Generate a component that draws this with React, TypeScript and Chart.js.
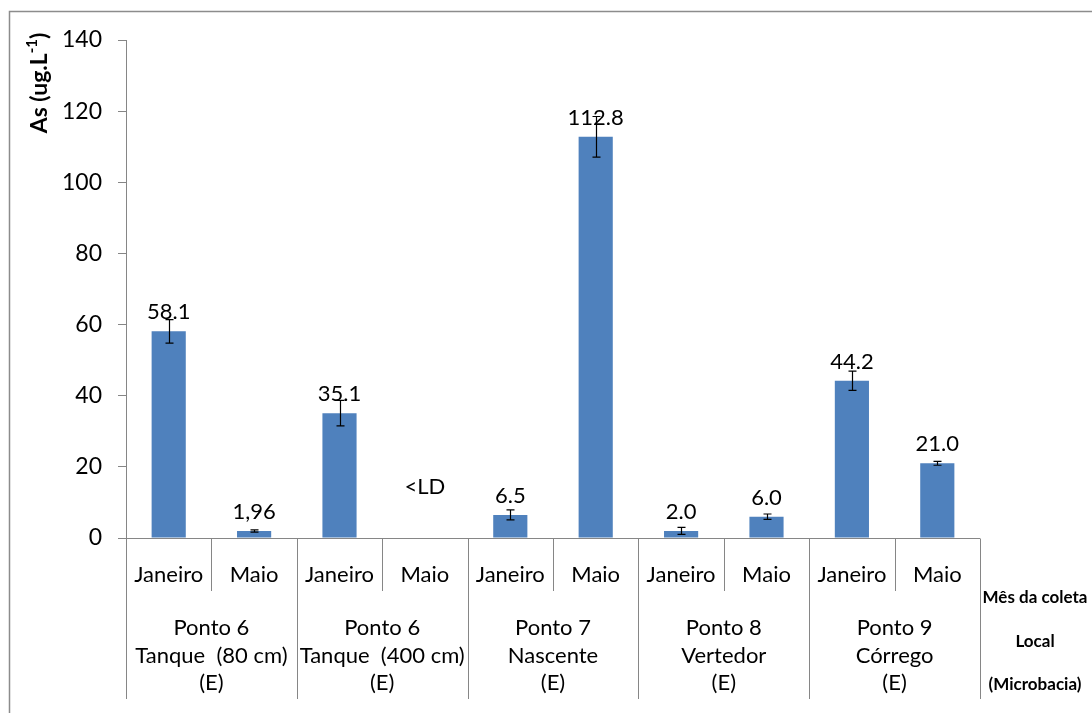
import React, { useEffect, useRef } from "react";
import { Chart, registerables } from "chart.js";

Chart.register(...registerables);

// Collection month for each bar
const MONTHS = ["Janeiro", "Maio", "Janeiro", "Maio", "Janeiro", "Maio", "Janeiro", "Maio", "Janeiro", "Maio"];

// Sampling sites (each spans two months)
const SITES = [
  ["Ponto 6", "Tanque  (80 cm)", "(E)"],
  ["Ponto 6", "Tanque  (400 cm)", "(E)"],
  ["Ponto 7", "Nascente", "(E)"],
  ["Ponto 8", "Vertedor", "(E)"],
  ["Ponto 9", "Córrego", "(E)"],
];

// Arsenic concentration (ug/L); null = below detection limit
const AS_VALUES: (number | null)[] = [58.1, 1.96, 35.1, null, 6.5, 112.8, 2.0, 6.0, 44.2, 21.0];
const AS_ERRORS = [3.3, 0.3, 3.6, 0, 1.4, 5.7, 1.0, 0.75, 2.7, 0.55];
const VALUE_LABELS = ["58.1", "1,96", "35.1", "<LD", "6.5", "112.8", "2.0", "6.0", "44.2", "21.0"];

// Row headers at the right of the category axis
const ROW_TITLES = ["Mês da coleta", "Local", "(Microbacia)"];

const Y_MIN = 0;
const Y_MAX = 140;
const Y_STEP = 20;

const AXIS_GREY = "#868686";
const BAR_BLUE = "#4F81BD";
const FONT = "Lato";

const annotate = {
  id: "annotate",
  afterDraw(chart: any) {
    const { ctx, chartArea } = chart;
    const yScale = chart.scales.y;
    const meta = chart.getDatasetMeta(0);
    const { left, right, bottom } = chartArea;
    const n = MONTHS.length;
    const cw = (right - left) / n;

    ctx.save();

    // outer frame
    ctx.strokeStyle = "#8c8c8c";
    ctx.lineWidth = 1.5;
    ctx.beginPath();
    ctx.moveTo(9.5, chart.height + 5);
    ctx.lineTo(9.5, 11.5);
    ctx.lineTo(chart.width + 5, 11.5);
    ctx.stroke();

    // error bars
    ctx.strokeStyle = "#000";
    ctx.lineWidth = 1.2;
    AS_VALUES.forEach((v, i) => {
      const e = AS_ERRORS[i];
      if (v == null || !e) return;
      const x = Math.round(meta.data[i].x) + 0.5;
      const yt = yScale.getPixelForValue(v + e);
      const yb = yScale.getPixelForValue(v - e);
      ctx.beginPath();
      ctx.moveTo(x, yt);
      ctx.lineTo(x, yb);
      ctx.moveTo(x - 4, yt);
      ctx.lineTo(x + 4, yt);
      ctx.moveTo(x - 4, yb);
      ctx.lineTo(x + 4, yb);
      ctx.stroke();
    });

    // value labels
    ctx.fillStyle = "#000";
    ctx.font = `22px ${FONT}`;
    ctx.textAlign = "center";
    ctx.textBaseline = "alphabetic";
    VALUE_LABELS.forEach((t, i) => {
      const v = AS_VALUES[i];
      const x = left + cw * (i + 0.5);
      const y = v == null ? yScale.getPixelForValue(12.5) : yScale.getPixelForValue(v) - 12;
      ctx.fillText(t, x, y);
    });

    // category axis line and separators
    ctx.strokeStyle = AXIS_GREY;
    ctx.lineWidth = 1;
    const yb = Math.round(bottom) + 0.5;
    ctx.beginPath();
    ctx.moveTo(left - 8, yb);
    ctx.lineTo(right, yb);
    for (let i = 0; i <= n; i++) {
      const x = Math.round(left + cw * i) + 0.5;
      ctx.moveTo(x, yb);
      ctx.lineTo(x, i % 2 === 0 ? bottom + 161 : bottom + 53);
    }
    ctx.stroke();

    // month labels
    ctx.fillStyle = "#000";
    ctx.font = `22px ${FONT}`;
    ctx.textBaseline = "middle";
    MONTHS.forEach((m, i) => {
      ctx.fillText(m, left + cw * (i + 0.5), bottom + 37);
    });

    // site labels
    SITES.forEach((lines, g) => {
      const x = left + cw * (2 * g + 1);
      lines.forEach((t, k) => {
        ctx.fillText(t, x, bottom + 90 + k * 27.5);
      });
    });

    // row headers
    ctx.font = `bold 17px ${FONT}`;
    const rowY = [bottom + 60, bottom + 104, bottom + 147];
    ROW_TITLES.forEach((t, k) => {
      ctx.fillText(t, 1035, rowY[k]);
    });

    // y-axis title with superscript
    ctx.translate(40, 83);
    ctx.rotate(-Math.PI / 2);
    const main = "As (ug.L";
    const sup = "-1";
    const tail = ")";
    ctx.font = `bold 23px ${FONT}`;
    const wMain = ctx.measureText(main).width;
    const wTail = ctx.measureText(tail).width;
    ctx.font = `bold 15px ${FONT}`;
    const wSup = ctx.measureText(sup).width;
    const total = wMain + wSup + wTail;
    let x0 = -total / 2;
    ctx.textAlign = "left";
    ctx.textBaseline = "middle";
    ctx.font = `bold 23px ${FONT}`;
    ctx.fillText(main, x0, 0);
    x0 += wMain;
    ctx.font = `bold 15px ${FONT}`;
    ctx.fillText(sup, x0, -8);
    x0 += wSup;
    ctx.font = `bold 23px ${FONT}`;
    ctx.fillText(tail, x0, 0);

    ctx.restore();
  },
};

export default function App() {
  const ref = useRef<HTMLCanvasElement | null>(null);

  useEffect(() => {
    if (!ref.current) return;
    Chart.defaults.font.family = FONT;
    const chart = new Chart(ref.current, {
      type: "bar",
      data: {
        labels: MONTHS,
        datasets: [
          {
            data: AS_VALUES,
            backgroundColor: BAR_BLUE,
            borderWidth: 0,
            barPercentage: 0.4,
            categoryPercentage: 1,
          },
        ],
      },
      options: {
        responsive: false,
        animation: false,
        layout: { padding: { left: 0, right: 112, top: 40, bottom: 175 } },
        plugins: {
          legend: { display: false },
          tooltip: { enabled: false },
        },
        scales: {
          x: { display: false },
          y: {
            min: Y_MIN,
            max: Y_MAX,
            afterFit(scale: any) {
              scale.width = 126;
            },
            ticks: {
              stepSize: Y_STEP,
              color: "#000",
              font: { size: 23, family: FONT },
              padding: 16,
            },
            grid: {
              drawOnChartArea: false,
              drawTicks: true,
              tickLength: 8,
              color: AXIS_GREY,
            },
            border: { color: AXIS_GREY },
          },
        },
      },
      plugins: [annotate],
    });
    return () => chart.destroy();
  }, []);

  return (
    <div style={{ position: "absolute", left: 0, top: 0, width: 1092, height: 713, background: "#fff" }}>
      <canvas ref={ref} width={1092} height={713} />
    </div>
  );
}
